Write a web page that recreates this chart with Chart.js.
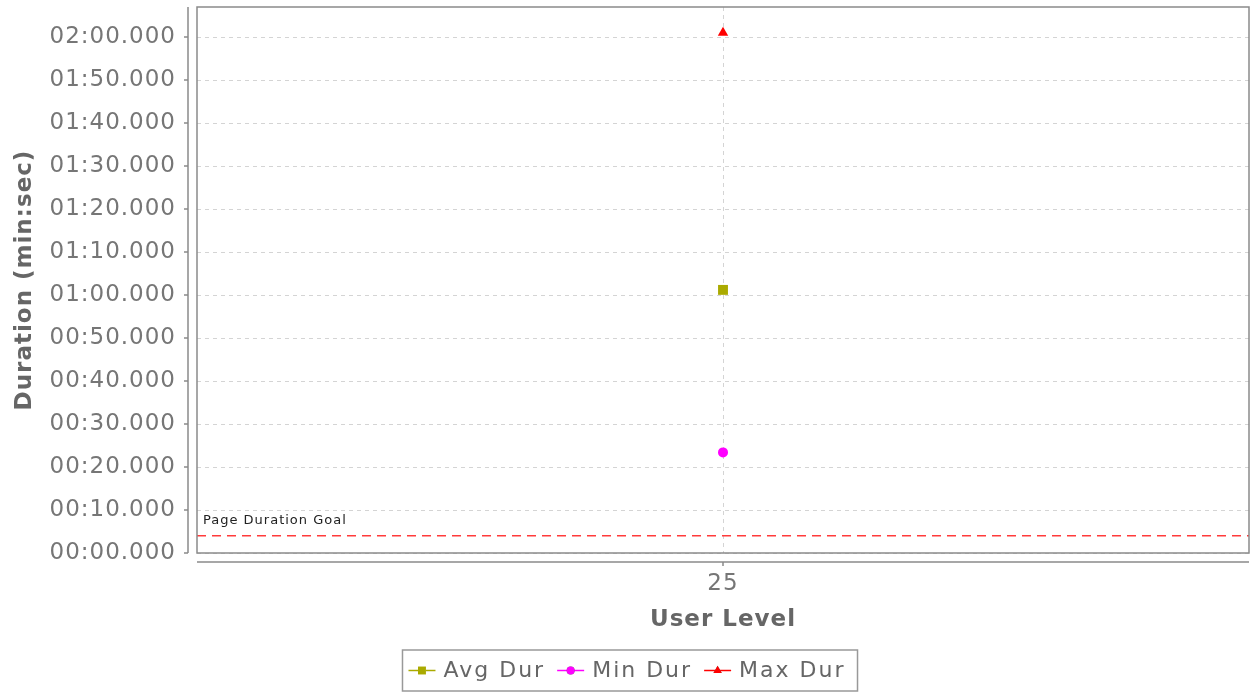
<!DOCTYPE html>
<html>
<head>
<meta charset="utf-8">
<script src="https://cdn.jsdelivr.net/npm/chart.js@4/dist/chart.umd.min.js"></script>
<style>
  body { margin: 0; background: #fff; }
  #wrap { width: 1251px; height: 692px; }
</style>
</head>
<body>
<div id="wrap"><canvas id="chart" width="1251" height="692"></canvas></div>
<script>
// values in seconds
const categories = ['25'];
const avgDur = [61.2];
const minDur = [23.4];
const maxDur = [121.0];
const goalSeconds = 4;
const yMax = 127;

const tickColor = '#767676';
const axisColor = '#8a8a8a';

function fmtDur(v) {
  const m = Math.floor(v / 60);
  const s = v - m * 60;
  const ss = Math.floor(s);
  const ms = Math.round((s - ss) * 1000);
  return String(m).padStart(2, '0') + ':' + String(ss).padStart(2, '0') + '.' + String(ms).padStart(3, '0');
}

// the reference font is spaced out a little wider than DejaVu
const spacing = {
  id: 'spacing',
  beforeLayout(chart) { chart.ctx.letterSpacing = '1px'; },
  beforeDraw(chart) { chart.ctx.letterSpacing = '1px'; }
};

// frame, offset axis lines, goal line and boxed legend
const decor = {
  id: 'decor',
  beforeDatasetsDraw(chart) {
    const { ctx, chartArea: a, scales } = chart;
    const gy = scales.y.getPixelForValue(goalSeconds);
    ctx.save();
    ctx.strokeStyle = '#ff3b3b';
    ctx.lineWidth = 1.5;
    ctx.setLineDash([9, 6]);
    ctx.beginPath();
    ctx.moveTo(a.left, gy);
    ctx.lineTo(a.right, gy);
    ctx.stroke();
    ctx.setLineDash([]);
    ctx.fillStyle = '#222';
    ctx.font = '13px "DejaVu Sans"';
    ctx.letterSpacing = '1px';
    ctx.textBaseline = 'bottom';
    ctx.fillText('Page Duration Goal', a.left + 6, gy - 9);
    ctx.restore();
  },
  afterDraw(chart) {
    const { ctx, chartArea: a, scales } = chart;
    ctx.save();
    ctx.strokeStyle = axisColor;
    ctx.lineWidth = 1.5;
    ctx.strokeRect(a.left, a.top, a.right - a.left, a.bottom - a.top);
    // y axis line with ticks
    const ax = a.left - 9;
    ctx.beginPath();
    ctx.moveTo(ax, a.top);
    ctx.lineTo(ax, a.bottom);
    scales.y.ticks.forEach(t => {
      const py = scales.y.getPixelForValue(t.value);
      ctx.moveTo(ax - 4, py);
      ctx.lineTo(ax, py);
    });
    // x axis line with ticks
    const ay = a.bottom + 9;
    ctx.moveTo(a.left, ay);
    ctx.lineTo(a.right, ay);
    categories.forEach((c, i) => {
      const px = scales.x.getPixelForValue(i);
      ctx.moveTo(px, ay);
      ctx.lineTo(px, ay + 4);
    });
    ctx.stroke();

    // legend
    ctx.font = '22px "DejaVu Sans"';
    ctx.letterSpacing = '2px';
    ctx.textBaseline = 'middle';
    const items = chart.data.datasets.map(d => ({ d, w: ctx.measureText(d.label).width }));
    const lineW = 27, gap1 = 8, gap2 = 12;
    let total = 6;
    items.forEach(it => { total += lineW + gap1 + it.w + gap2; });
    const cx = 630;
    const bx = cx - total / 2, by = 650, bh = 41;
    ctx.fillStyle = '#fff';
    ctx.fillRect(bx, by, total, bh);
    ctx.strokeStyle = '#999';
    ctx.lineWidth = 1.5;
    ctx.strokeRect(bx, by, total, bh);
    let x = bx + 6;
    const my = by + bh / 2;
    items.forEach(it => {
      const d = it.d;
      ctx.strokeStyle = d.borderColor;
      ctx.lineWidth = 1.5;
      ctx.beginPath();
      ctx.moveTo(x, my);
      ctx.lineTo(x + lineW, my);
      ctx.stroke();
      Chart.helpers.drawPoint(ctx, {
        pointStyle: d.pointStyle, radius: d.pointRadius * 0.8, borderWidth: 0, rotation: 0
      }, x + lineW / 2, my);
      ctx.fillStyle = d.backgroundColor;
      ctx.fill();
      x += lineW + gap1;
      ctx.fillStyle = '#666';
      ctx.textAlign = 'left';
      ctx.fillText(d.label, x, my + 1);
      x += it.w + gap2;
    });
    ctx.restore();
  }
};

new Chart(document.getElementById('chart'), {
  type: 'line',
  data: {
    labels: categories,
    datasets: [
      { label: 'Avg Dur', data: avgDur, borderColor: '#aaaa00', backgroundColor: '#aaaa00', pointStyle: 'rect', pointRadius: 7, showLine: false },
      { label: 'Min Dur', data: minDur, borderColor: '#ff00ff', backgroundColor: '#ff00ff', pointStyle: 'circle', pointRadius: 5, showLine: false },
      { label: 'Max Dur', data: maxDur, borderColor: '#ff0000', backgroundColor: '#ff0000', pointStyle: 'triangle', pointRadius: 6, showLine: false }
    ]
  },
  options: {
    responsive: false,
    animation: false,
    layout: { autoPadding: false, padding: { top: 7, right: 2, left: 0, bottom: 50 } },
    plugins: { legend: { display: false }, tooltip: { enabled: false } },
    elements: { point: { borderWidth: 0 } },
    scales: {
      x: {
        offset: true,
        afterFit(s) { s.height = 89; s.paddingLeft = 0; s.paddingRight = 0; },
        border: { display: false, dash: [4, 4] },
        grid: { color: '#d4d4d4', drawTicks: false, offset: false },
        ticks: { color: tickColor, font: { family: 'DejaVu Sans', size: 23 }, padding: 17 },
        title: { display: true, text: 'User Level', color: '#666', font: { family: 'DejaVu Sans', size: 23, weight: 'bold' }, padding: { top: 0, bottom: 8 } }
      },
      y: {
        min: 0,
        max: yMax,
        afterFit(s) { s.width = 197; s.paddingTop = 0; s.paddingBottom = 0; },
        border: { display: false, dash: [4, 4] },
        grid: { color: '#d4d4d4', drawTicks: false },
        ticks: {
          stepSize: 10, includeBounds: false, color: tickColor, padding: 21,
          font: { family: 'DejaVu Sans', size: 23 },
          callback: v => fmtDur(v)
        },
        title: { display: true, text: 'Duration (min:sec)', color: '#666', font: { family: 'DejaVu Sans', size: 23, weight: 'bold' }, padding: { top: 11, bottom: 0 } }
      }
    }
  },
  plugins: [spacing, decor]
});
</script>
</body>
</html>
